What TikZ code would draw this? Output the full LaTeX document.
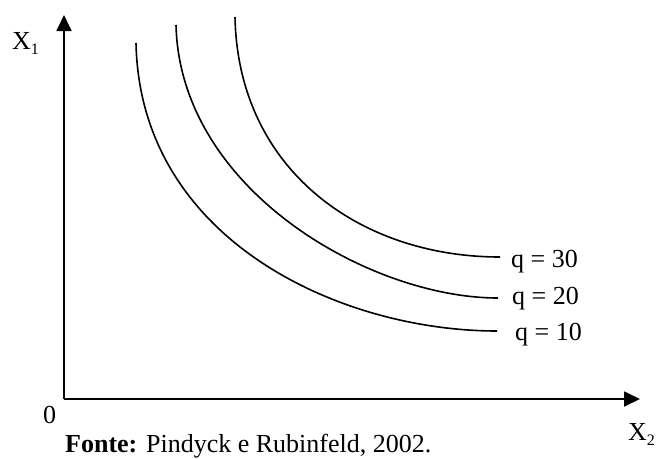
\documentclass[tikz,border=0pt]{standalone}
\usepackage{fontspec}
\setmainfont{Liberation Serif}
\usetikzlibrary{arrows.meta}
\tikzset{
  axis/.style={line width=1.8pt,-{Triangle[length=16pt,width=15pt]}},
  curve/.style={line width=1.6pt},
  lbl/.style={anchor=base west,inner sep=0pt,font=\fontsize{26}{30}\selectfont},
  src/.style={anchor=base west,inner sep=0pt,font=\fontsize{26}{30}\selectfont}
}
\newcommand{\mysub}[1]{\raisebox{-0.2em}{\fontsize{16}{16}\selectfont #1}}
\begin{document}
\begin{tikzpicture}[x=1pt,y=-1pt]
\useasboundingbox (0,0) rectangle (658,458);
\coordinate (O) at (64,399);
\coordinate (Ytip) at (64,15);
\coordinate (Xtip) at (640,399);
\draw[axis] (O) -- (Ytip);
\draw[axis] (O) -- (Xtip);
% isoquants
\coordinate (a1) at (136,43); \coordinate (a2) at (497,331);
\coordinate (b1) at (176,25); \coordinate (b2) at (498,298);
\coordinate (c1) at (235,17); \coordinate (c2) at (500,257);
\draw[curve] (a1) .. controls (140,240) and (340,331) .. (a2);
\draw[curve] (b1) .. controls (180,190) and (370,298) .. (b2);
\draw[curve] (c1) .. controls (238,170) and (360,257) .. (c2);
\node[lbl] (q30) at (511,267) {q = 30};
\node[lbl] (q20) at (512,304) {q = 20};
\node[lbl] (q10) at (515,340) {q = 10};
\node[lbl] (x1) at (12,49) {X\mysub{1}};
\node[lbl] (x2) at (628,440) {X\mysub{2}};
\node[lbl] (zero) at (43,423) {0};
\node[src] (fonte) at (65,452) {\textbf{Fonte:} Pindyck e Rubinfeld, 2002.};
\end{tikzpicture}
\end{document}
